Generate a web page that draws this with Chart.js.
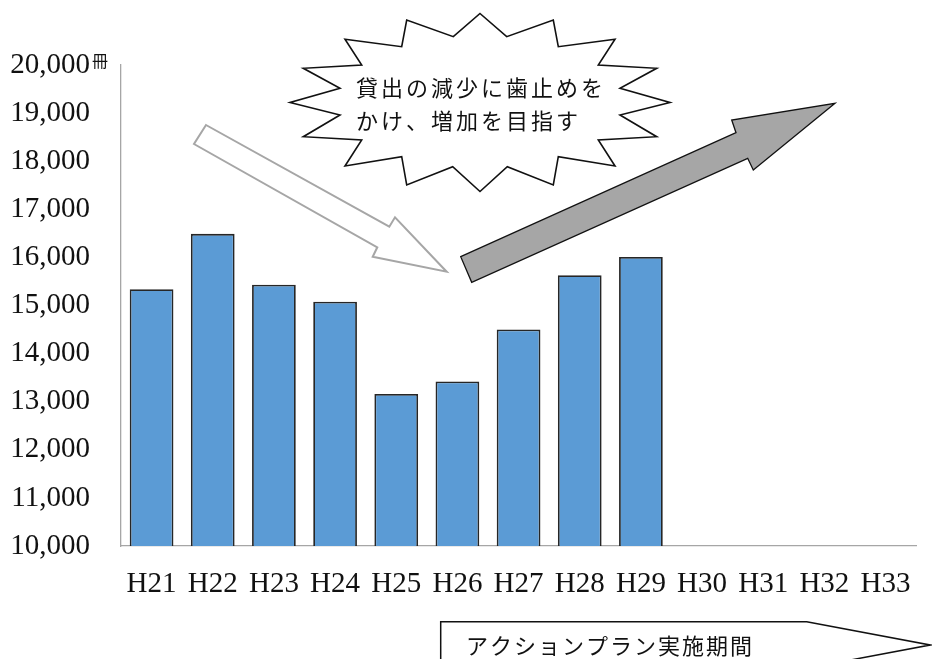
<!DOCTYPE html>
<html lang="ja">
<head>
<meta charset="utf-8">
<title>貸出冊数の推移</title>
<script src="https://cdn.jsdelivr.net/npm/chart.js@4.4.1/dist/chart.umd.min.js"></script>
<style>
  html, body { margin: 0; padding: 0; background: #fff; }
  #wrap { position: relative; width: 932px; height: 659px; }
</style>
</head>
<body>
<div id="wrap"><canvas id="lendingChart"></canvas></div>
<script>
// 年度（H21〜H33）
const years = ["H21", "H22", "H23", "H24", "H25", "H26", "H27", "H28", "H29", "H30", "H31", "H32", "H33"];
// 貸出冊数（H30以降はまだ実績なし）
const lendings = [15340, 16490, 15430, 15080, 13160, 13420, 14500, 15630, 16010, null, null, null, null];
// 縦軸の範囲
const yMin = 10000;
const yMax = 20000;
const yStep = 1000;
// テキスト
const unitLabel = "冊";
const calloutLines = ["貸出の減少に歯止めを", "かけ、増加を目指す"];
const periodLabel = "アクションプラン実施期間";

const serif = '"Liberation Serif", "Times New Roman", serif';
const gothic = '"Noto Sans CJK JP", sans-serif';

// 吹き出し・矢印などの飾り
const decorations = {
  id: "decorations",
  afterDraw(chart) {
    const ctx = chart.ctx;
    const yScale = chart.scales.y;
    ctx.save();

    // 単位
    ctx.fillStyle = "#111";
    ctx.font = "16px " + gothic;
    ctx.textAlign = "left";
    ctx.textBaseline = "middle";
    ctx.fillText(unitLabel, chart.chartArea.left - 29, yScale.getPixelForValue(yMax) - 4);

    const poly = (pts) => {
      ctx.beginPath();
      pts.forEach((p, i) => (i ? ctx.lineTo(p[0], p[1]) : ctx.moveTo(p[0], p[1])));
      ctx.closePath();
    };

    // 白抜きの下向き矢印
    poly([[206, 125], [389.3, 226.7], [395, 217.3], [446.7, 271.7], [372.7, 256.7], [377.3, 247.3], [194, 144]]);
    ctx.fillStyle = "#fff";
    ctx.fill();
    ctx.lineWidth = 2;
    ctx.strokeStyle = "#a6a6a6";
    ctx.lineJoin = "miter";
    ctx.stroke();

    // 灰色の上向き矢印
    poly([[460.7, 256.7], [736, 132.7], [731.7, 120], [835, 103.3], [753.3, 170], [747.7, 158.3], [471.7, 282.3]]);
    ctx.fillStyle = "#a6a6a6";
    ctx.fill();
    ctx.lineWidth = 1.3;
    ctx.strokeStyle = "#111";
    ctx.stroke();

    // 爆発型の吹き出し
    const cx = 480, cy = 102.5;
    const half = [[0, -89], [26.7, -65.8], [73.3, -82.5], [78.3, -55.8], [135, -63.2], [118.3, -37.5],
      [176.7, -34.2], [140, -14.2], [190, 0], [140, 12.5], [176.7, 34.2], [118.3, 37.5],
      [135, 63.5], [78.3, 54.2], [73.3, 82.5], [27.3, 64.2], [0, 89]];
    const star = half.concat(half.slice(1, -1).reverse().map(p => [-p[0], p[1]]));
    poly(star.map(p => [cx + p[0], cy + p[1]]));
    ctx.fillStyle = "#fff";
    ctx.fill();
    ctx.lineWidth = 1.6;
    ctx.strokeStyle = "#111";
    ctx.stroke();

    ctx.fillStyle = "#111";
    ctx.font = "22px " + gothic;
    ctx.textAlign = "left";
    ctx.textBaseline = "middle";
    calloutLines.forEach((line, row) => {
      [...line].forEach((ch, i) => ctx.fillText(ch, 356 + i * 25, 88 + row * 33));
    });

    // 実施期間の矢印型ボックス
    poly([[440.7, 621.7], [806.7, 621.7], [930, 645], [806.7, 668.3], [440.7, 668.3]]);
    ctx.fillStyle = "#fff";
    ctx.fill();
    ctx.lineWidth = 1.5;
    ctx.strokeStyle = "#111";
    ctx.stroke();

    ctx.fillStyle = "#111";
    ctx.font = "22px " + gothic;
    [...periodLabel].forEach((ch, i) => ctx.fillText(ch, 466 + i * 24, 646));

    ctx.restore();
  }
};

new Chart(document.getElementById("lendingChart"), {
  type: "bar",
  data: {
    labels: years,
    datasets: [{
      label: "貸出冊数",
      data: lendings,
      backgroundColor: "#5b9bd5",
      borderColor: "#262626",
      borderWidth: 1.8,
      barPercentage: 0.715,
      categoryPercentage: 1.0
    }]
  },
  options: {
    responsive: true,
    maintainAspectRatio: false,
    animation: false,
    layout: { padding: { top: 65, left: 10, right: 12, bottom: 59 } },
    plugins: {
      legend: { display: false },
      tooltip: { enabled: false }
    },
    scales: {
      x: {
        grid: { display: false, drawTicks: false },
        border: { color: "#a6a6a6", width: 1.3 },
        ticks: { color: "#111", padding: 21, font: { family: serif, size: 29 } },
        afterFit: (scale) => { scale.height = 54; }
      },
      y: {
        min: yMin,
        max: yMax,
        grid: { display: false, drawTicks: false },
        border: { color: "#a6a6a6", width: 1.3 },
        ticks: {
          stepSize: yStep,
          color: "#111",
          padding: 31,
          font: { family: serif, size: 29 },
          callback: (v) => v.toLocaleString("en-US")
        },
        afterFit: (scale) => { scale.width = 111; }
      }
    }
  },
  plugins: [decorations]
});
</script>
</body>
</html>
